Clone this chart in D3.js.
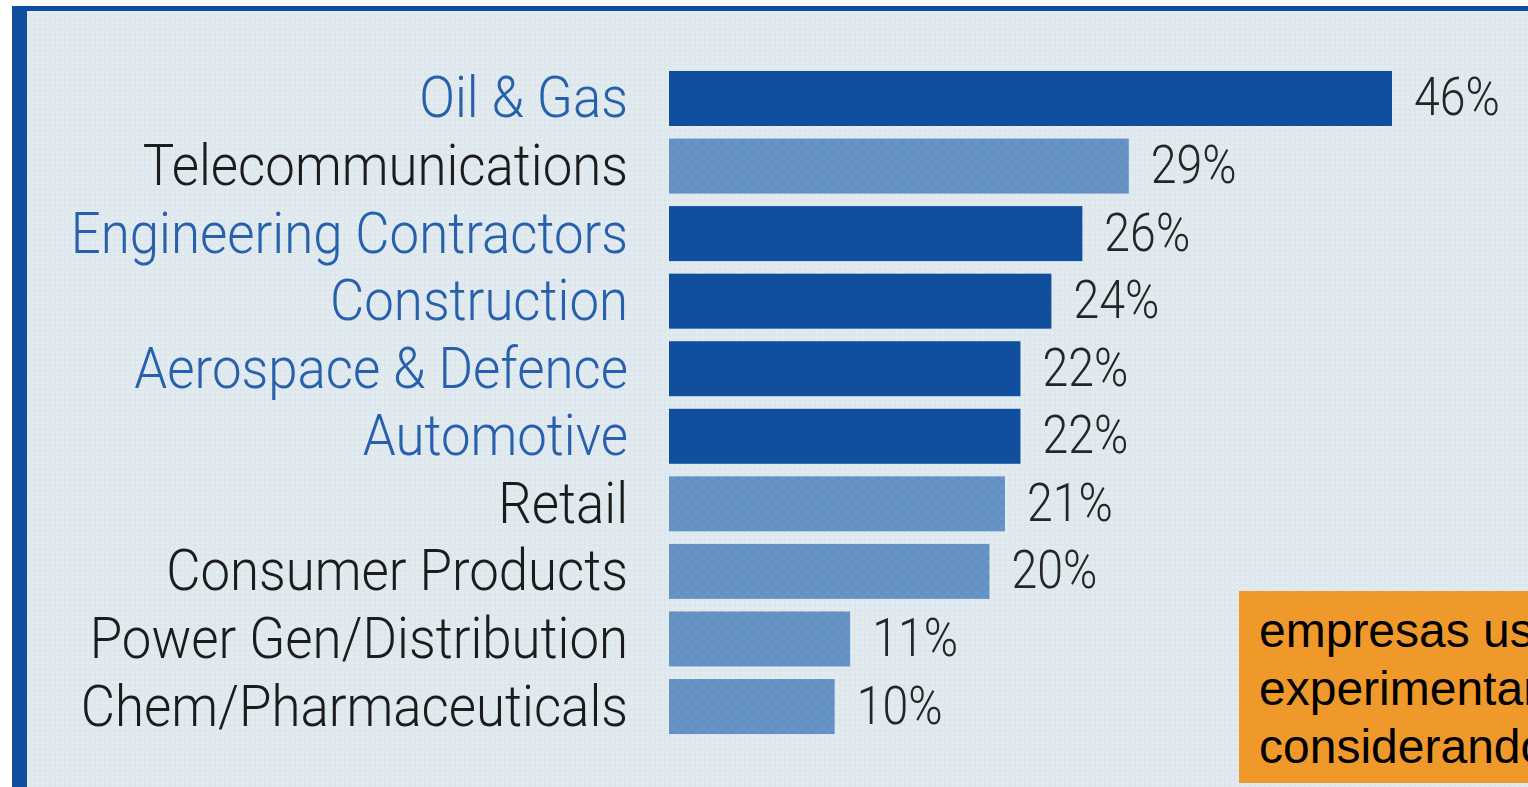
<!DOCTYPE html>
<html>
<head>
<meta charset="utf-8">
<script src="https://cdn.jsdelivr.net/npm/d3@7"></script>
<style>
  html, body { margin: 0; padding: 0; background: #ffffff; }
  svg { display: block; }
</style>
</head>
<body>
<svg id="chart" width="1528" height="787"></svg>
<script>
// Sector adoption shares (percent)
const sectors = [
  "Oil & Gas",
  "Telecommunications",
  "Engineering Contractors",
  "Construction",
  "Aerospace & Defence",
  "Automotive",
  "Retail",
  "Consumer Products",
  "Power Gen/Distribution",
  "Chem/Pharmaceuticals"
];
const shares = [46, 29, 26, 24, 22, 22, 21, 20, 11, 10];
// "lead" sectors are drawn in solid blue, the rest in the lighter hatched blue
const sectorGroup = ["lead", "other", "lead", "lead", "lead", "lead", "other", "other", "other", "other"];
const calloutLines = ["empresas us", "experimentar", "considerando"];

const rows = sectors.map((name, i) => ({ name, value: shares[i], group: sectorGroup[i] }));

const W = 1528, H = 787;
const svg = d3.select("#chart");
const defs = svg.append("defs");

// faint dotted screen on the panel background
const dots = defs.append("pattern")
  .attr("id", "dots").attr("patternUnits", "userSpaceOnUse")
  .attr("width", 5).attr("height", 5);
dots.append("rect").attr("width", 5).attr("height", 5).attr("fill", "#dee7ee");
dots.append("rect").attr("x", 1).attr("y", 1).attr("width", 3).attr("height", 3).attr("fill", "#e3edf0");

// checker texture for the lighter bars
const checker = defs.append("pattern")
  .attr("id", "checker").attr("patternUnits", "userSpaceOnUse")
  .attr("width", 10).attr("height", 10);
checker.append("rect").attr("width", 10).attr("height", 10).attr("fill", "#6894c6");
checker.append("rect").attr("width", 5).attr("height", 5).attr("fill", "#6290c3");
checker.append("rect").attr("x", 5).attr("y", 5).attr("width", 5).attr("height", 5).attr("fill", "#6290c3");

// panel and its blue frame (top and left edges)
svg.append("rect").attr("x", 12).attr("y", 6).attr("width", W - 12).attr("height", H - 6).attr("fill", "url(#dots)");
svg.append("rect").attr("x", 12).attr("y", 6).attr("width", W - 12).attr("height", 5).attr("fill", "#0f4e9f");
svg.append("rect").attr("x", 12).attr("y", 6).attr("width", 15).attr("height", H - 6).attr("fill", "#0f4e9f");

// scales
const x = d3.scaleLinear().domain([-0.7, 46]).range([669, 1392]);
const y = d3.scaleBand().domain(sectors).range([71, 734]).paddingInner(0.186).paddingOuter(0);

const colorFill = g => g === "lead" ? "#0f4f9e" : "url(#checker)";
const labelColor = g => g === "lead" ? "#2760ad" : "#1c1c1c";

const labelFont = "Roboto, 'DejaVu Sans', sans-serif";
const squeeze = 0.91;

// bars
svg.append("g").selectAll("rect")
  .data(rows).join("rect")
  .attr("x", x(-0.7))
  .attr("y", d => y(d.name))
  .attr("width", d => x(d.value) - x(-0.7))
  .attr("height", y.bandwidth())
  .attr("fill", d => colorFill(d.group));

// category labels
svg.append("g").selectAll("g")
  .data(rows).join("g")
  .attr("transform", d => `translate(628,${y(d.name) + y.bandwidth() / 2 + 19}) scale(${squeeze},1)`)
  .append("text")
  .attr("text-anchor", "end")
  .attr("font-family", labelFont)
  .attr("font-weight", 300)
  .attr("font-size", 58)
  .attr("fill", d => labelColor(d.group))
  .text(d => d.name);

// value labels
svg.append("g").selectAll("g")
  .data(rows).join("g")
  .attr("transform", d => `translate(${x(d.value) + 22},${y(d.name) + y.bandwidth() / 2 + 17}) scale(0.86,1)`)
  .append("text")
  .attr("font-family", labelFont)
  .attr("font-weight", 300)
  .attr("font-size", 54)
  .attr("fill", "#262626")
  .text(d => d.value + "%");

// orange callout box, running off the right edge
const callout = svg.append("g");
callout.append("rect")
  .attr("x", 1239).attr("y", 591).attr("width", W - 1239).attr("height", 192)
  .attr("fill", "#f0992b");
callout.selectAll("text")
  .data(calloutLines).join("text")
  .attr("x", 1259)
  .attr("y", (d, i) => 647 + i * 58)
  .attr("font-family", "'Liberation Sans', Arial, sans-serif")
  .attr("font-size", 48)
  .attr("fill", "#000")
  .text(d => d);
</script>
</body>
</html>
